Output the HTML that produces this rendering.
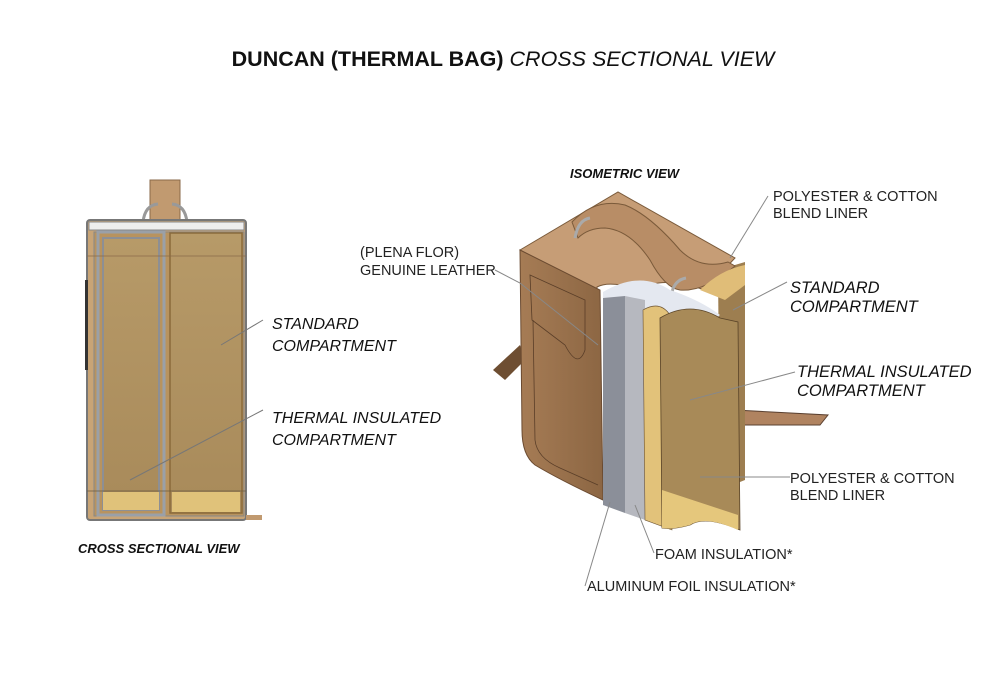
<!DOCTYPE html>
<html><head><meta charset="utf-8"><style>
html,body{margin:0;padding:0;background:#fff;}
svg{display:block}
text{font-family:"Liberation Sans",sans-serif;}
</style></head><body>
<svg width="1000" height="685" viewBox="0 0 1000 685" xmlns="http://www.w3.org/2000/svg">
<defs>
<linearGradient id="tan" x1="0" y1="0" x2="0" y2="1"><stop offset="0" stop-color="#b79a68"/><stop offset="1" stop-color="#a88a5a"/></linearGradient>
<linearGradient id="leather" x1="0" y1="0" x2="1" y2="0"><stop offset="0" stop-color="#a67c55"/><stop offset="1" stop-color="#8c6643"/></linearGradient>
</defs>
<text x="503" y="66" text-anchor="middle" font-size="21.5" font-weight="bold" fill="#111">DUNCAN (THERMAL BAG) <tspan font-weight="normal" font-style="italic">CROSS SECTIONAL VIEW</tspan></text>

<!-- LEFT cross section -->
<rect x="150" y="180" width="30" height="40" fill="#c19a70" stroke="#8a6a48"/>
<path d="M143 222 Q145 205 158 204 M187 222 Q185 205 172 204" stroke="#999" stroke-width="3" fill="none"/>
<rect x="87" y="220" width="159" height="300" rx="3" fill="#c8a476" stroke="#777" stroke-width="2"/>
<rect x="89" y="222" width="155" height="8" fill="#eee" stroke="#888"/>
<rect x="85" y="280" width="3" height="90" fill="#333"/>
<rect x="94" y="232" width="150" height="284" fill="#b8935f" stroke="#888"/>
<rect x="98" y="232" width="66" height="283" fill="none" stroke="#9aa0a8" stroke-width="3"/>
<rect x="103" y="238" width="56" height="272" fill="url(#tan)" stroke="#8d8f94" stroke-width="2"/>
<rect x="170" y="233" width="72" height="280" fill="url(#tan)" stroke="#8a6a3a" stroke-width="1.5"/>
<rect x="103" y="492" width="56" height="18" fill="#e0c27a"/>
<rect x="172" y="492" width="68" height="20" fill="#e0c27a"/>
<line x1="87" y1="256" x2="246" y2="256" stroke="#8a6a48" stroke-width="0.8"/>
<line x1="87" y1="491" x2="246" y2="491" stroke="#6a5a40" stroke-width="0.8"/>
<rect x="246" y="515" width="16" height="5" fill="#c19a70"/>
<line x1="221" y1="345" x2="263" y2="320" stroke="#777"/>
<line x1="130" y1="480" x2="263" y2="410" stroke="#777"/>
<text x="272" y="329" font-size="16" font-style="italic" fill="#111">STANDARD</text>
<text x="272" y="351" font-size="16" font-style="italic" fill="#111">COMPARTMENT</text>
<text x="272" y="423" font-size="16" font-style="italic" fill="#111">THERMAL INSULATED</text>
<text x="272" y="445" font-size="16" font-style="italic" fill="#111">COMPARTMENT</text>
<text x="78" y="553" font-size="13" font-weight="bold" font-style="italic" fill="#111">CROSS SECTIONAL VIEW</text>

<!-- RIGHT isometric -->
<text x="570" y="178" font-size="13" font-weight="bold" font-style="italic" fill="#111">ISOMETRIC VIEW</text>
<path d="M493 370 L520 345 L525 360 L505 380 Z" fill="#6e4e32"/>
<path d="M735 410 L828 415 L820 425 L735 425 Z" fill="#b08360" stroke="#5a4030"/>
<path d="M718 270 L745 262 L745 480 L720 490 Z" fill="#9d7e50"/>
<!-- top face -->
<path d="M520 250 L618 192 L735 258 L705 290 Q660 275 640 290 Q610 280 597 287 L597 295 Z" fill="#c69d76" stroke="#7a5a3a"/>
<!-- handle band -->
<path d="M572 222 Q595 198 625 205 Q650 215 680 250 Q700 270 728 262 L735 266 Q705 292 680 290 Q665 288 650 260 Q630 230 605 228 Q588 228 578 238 Z" fill="#b88d66" stroke="#7a5a3a"/>
<path d="M575 238 Q578 220 590 218" stroke="#aaa" stroke-width="3" fill="none"/>
<path d="M672 292 Q675 280 686 278" stroke="#aaa" stroke-width="3" fill="none"/>
<!-- front leather face -->
<path d="M520 250 L600 290 L603 500 Q560 480 535 465 Q522 455 522 430 Z" fill="url(#leather)" stroke="#6a4a30"/>
<path d="M530 275 L585 300 L585 350 Q578 370 565 345 L532 320 Z" fill="none" stroke="#5a3e28" stroke-width="0.8"/>
<path d="M533 320 L535 440 Q537 458 560 468 L598 485" fill="none" stroke="#5a3e28" stroke-width="0.8"/>
<path d="M603 292 Q640 270 670 290 Q700 300 720 315 L700 330 Q680 318 662 320 Q640 305 603 305 Z" fill="#e4e8f0"/>
<path d="M603 298 L625 296 L625 513 L603 505 Z" fill="#8b8f99"/>
<path d="M625 296 L645 300 L645 520 L625 513 Z" fill="#b6b8bf"/>
<path d="M643 310 Q660 300 670 315 L672 530 L645 520 Z" fill="#e2c27a" stroke="#6a5030" stroke-width="0.6"/>
<path d="M660 318 Q690 300 720 318 L738 322 L740 530 Q705 515 690 525 Q672 530 662 528 Z" fill="#a88a58" stroke="#5a4428" stroke-width="0.8"/>
<path d="M662 490 L738 515 L738 530 Q705 515 690 525 Q672 530 662 528 Z" fill="#e5c77c"/>
<path d="M700 290 Q720 270 745 265 L745 285 L725 300 Z" fill="#e0bd78"/>

<g stroke="#888" stroke-width="1" fill="none">
<polyline points="495,270 520,283 598,345"/>
<line x1="730" y1="258" x2="768" y2="196"/>
<line x1="733" y1="310" x2="787" y2="282"/>
<line x1="690" y1="400" x2="795" y2="372"/>
<line x1="700" y1="477" x2="790" y2="477"/>
<line x1="635" y1="505" x2="654" y2="553"/>
<line x1="610" y1="502" x2="585" y2="586"/>
</g>
<g font-size="14.5" fill="#222">
<text x="360" y="257">(PLENA FLOR)</text>
<text x="360" y="275">GENUINE LEATHER</text>
<text x="773" y="201">POLYESTER &amp; COTTON</text>
<text x="773" y="218">BLEND LINER</text>
<text x="790" y="483">POLYESTER &amp; COTTON</text>
<text x="790" y="500">BLEND LINER</text>
<text x="655" y="559">FOAM INSULATION*</text>
<text x="587" y="591">ALUMINUM FOIL INSULATION*</text>
</g>
<g font-size="16.5" font-style="italic" fill="#111">
<text x="790" y="293">STANDARD</text>
<text x="790" y="312">COMPARTMENT</text>
<text x="797" y="377">THERMAL INSULATED</text>
<text x="797" y="396">COMPARTMENT</text>
</g>
</svg>
</body></html>
